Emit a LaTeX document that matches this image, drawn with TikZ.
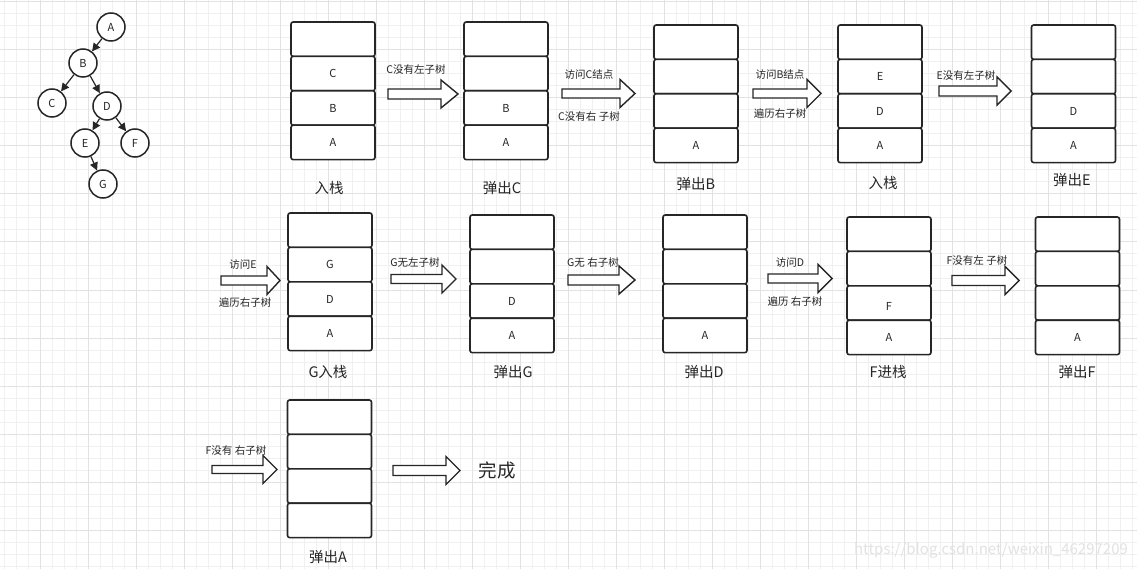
\documentclass[tikz,border=0pt]{standalone}
\usepackage{fontspec}
\setmainfont{Noto Sans CJK SC}
\usetikzlibrary{arrows.meta}
\definecolor{ink}{HTML}{262626}
\definecolor{gridminor}{HTML}{F0F0F0}
\definecolor{gridmajor}{HTML}{E2E2E2}
\definecolor{wm}{HTML}{E2E2E2}
\newcommand\stk[7]{%
  \node[cell] (#1a) at (#2,#3+17.2) {#4};
  \node[cell] (#1b) at (#2,#3+51.6) {#5};
  \node[cell] (#1c) at (#2,#3+86) {#6};
  \node[cell] (#1d) at (#2,#3+120.4) {#7};}
\newcommand\blkarrow[5]{%
  \draw[blk] (#1,#4-#5) -- (#3,#4-#5) -- (#3,#4-14) -- (#2,#4) -- (#3,#4+14) -- (#3,#4+#5) -- (#1,#4+#5) -- cycle;}
\begin{document}
\begin{tikzpicture}[x=1pt,y=-1pt,
  cell/.style={draw=ink,fill=white,line width=1.6pt,rounded corners=2.2pt,minimum width=84pt,minimum height=34.4pt,inner sep=0pt,font=\fontsize{11}{12}\selectfont,text=ink},
  blk/.style={draw=ink,fill=white,line width=1.4pt,line join=miter},
  tnode/.style={circle,draw=ink,fill=white,line width=1.5pt,minimum size=28pt,inner sep=0pt,font=\fontsize{11}{12}\selectfont,text=ink},
  tedge/.style={draw=ink,line width=1.2pt,-{Triangle[length=8pt,width=8pt]}},
  ttl/.style={font=\fontsize{14.5}{16}\selectfont,text=ink,inner sep=0pt},
  lbl/.style={font=\fontsize{10.5}{12}\selectfont,text=ink,inner sep=0pt},
  minor/.style={draw=gridminor,line width=1pt},
  major/.style={draw=gridmajor,line width=1pt}]
\useasboundingbox (0,0) rectangle (1137,569);
\fill[white] (0,0) rectangle (1137,569);
% grid
\foreach \k in {0,...,94} \draw[minor] ({4.7+12*\k},0) -- ({4.7+12*\k},569);
\foreach \k in {0,...,47} \draw[minor] (0,{2+12*\k}) -- (1137,{2+12*\k});
\foreach \k in {0,...,22} \draw[major] ({40.7+48*\k},0) -- ({40.7+48*\k},569);
\foreach \k in {0,...,11} \draw[major] (0,{2+48*\k}) -- (1137,{2+48*\k});
% tree
\node[tnode] (A) at (111,27) {A};
\node[tnode] (B) at (83,63) {B};
\node[tnode] (C) at (52,103) {C};
\node[tnode] (D) at (107,106) {D};
\node[tnode] (E) at (85,143) {E};
\node[tnode] (F) at (135,143) {F};
\node[tnode] (G) at (103,184) {G};
\draw[tedge] (A) -- (B);
\draw[tedge] (B) -- (C);
\draw[tedge] (B) -- (D);
\draw[tedge] (D) -- (E);
\draw[tedge] (D) -- (F);
\draw[tedge] (E) -- (G);
% stacks row 1
\stk{s1}{333}{22}{}{C}{B}{A}
\stk{s2}{506}{22}{}{}{B}{A}
\stk{s3}{696}{25}{}{}{}{A}
\stk{s4}{880}{25}{}{E}{D}{A}
\stk{s5}{1073.5}{25}{}{}{D}{A}
% row 2
\stk{s6}{330}{213}{}{G}{D}{A}
\stk{s7}{512}{215}{}{}{D}{A}
\stk{s8}{705}{215}{}{}{}{A}
\stk{s9}{889}{217}{}{}{}{A}
\node[lbl,font=\fontsize{11}{12}\selectfont] (s9f) at (889,306) {F};
\stk{s10}{1077.5}{217}{}{}{}{A}
% row 3
\stk{s11}{329.5}{400}{}{}{}{}
% titles
\node[ttl] (t1) at (329,188) {入栈};
\node[ttl] (t2) at (502,188) {弹出C};
\node[ttl] (t3) at (696,184) {弹出B};
\node[ttl] (t4) at (883,183) {入栈};
\node[ttl] (t5) at (1072,180) {弹出E};
\node[ttl] (t6) at (328,372) {G入栈};
\node[ttl] (t7) at (513,372) {弹出G};
\node[ttl] (t8) at (704,372) {弹出D};
\node[ttl] (t9) at (888,372) {F进栈};
\node[ttl] (t10) at (1077,372) {弹出F};
\node[ttl] (t11) at (328,557) {弹出A};
% block arrows
\blkarrow{388}{458}{441}{94}{5}
\blkarrow{562}{635}{620}{93.5}{4.5}
\blkarrow{753}{821}{807}{93.5}{4.5}
\blkarrow{939}{1011}{997}{91}{5}
\blkarrow{221}{280}{267}{280.5}{4.5}
\blkarrow{391}{456}{442}{279}{4.5}
\blkarrow{568}{635}{619}{280}{5}
\blkarrow{768}{832}{818}{278.5}{4.5}
\blkarrow{952}{1019}{1005}{280.5}{5}
\blkarrow{212}{277}{263}{469.5}{4}
\blkarrow{393}{460}{446}{470.5}{5}
% arrow labels
\node[lbl] (l1) at (416,70) {C没有左子树};
\node[lbl] (l2a) at (589,75) {访问C结点};
\node[lbl] (l2b) at (589,117) {C没有右\ 子树};
\node[lbl] (l3a) at (780,75) {访问B结点};
\node[lbl] (l3b) at (780,114) {遍历右子树};
\node[lbl] (l4) at (966,76) {E没有左子树};
\node[lbl] (l5a) at (243,265) {访问E};
\node[lbl] (l5b) at (245,303) {遍历右子树};
\node[lbl] (l6) at (415,263) {G无左子树};
\node[lbl] (l7) at (593,263) {G无\ 右子树};
\node[lbl] (l8a) at (790,263) {访问D};
\node[lbl] (l8b) at (795,302) {遍历\ 右子树};
\node[lbl] (l9) at (977,261) {F没有左\ 子树};
\node[lbl] (l10) at (236,451) {F没有\ 右子树};
\node[ttl,font=\fontsize{18.5}{20}\selectfont] (done) at (497,470) {完成};
% watermark
\node[inner sep=0pt,text=wm,font=\fontsize{15}{17}\selectfont] (wmk) at (991,550) {https://blog.csdn.net/weixin\_46297209};
\end{tikzpicture}
\end{document}
